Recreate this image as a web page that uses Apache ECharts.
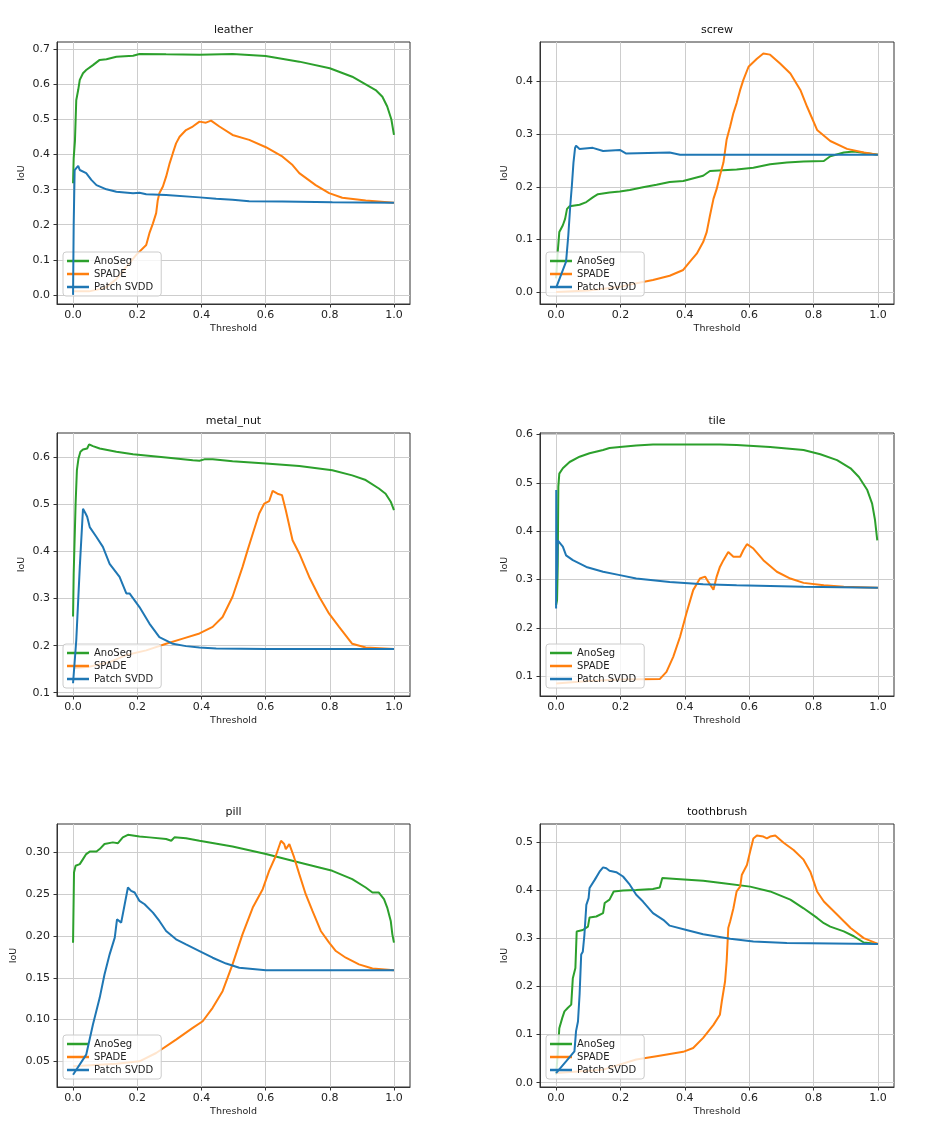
<!DOCTYPE html>
<html>
<head>
<meta charset="utf-8">
<script src="https://cdn.jsdelivr.net/npm/echarts@6/dist/echarts.min.js"></script>
<style>html,body{margin:0;padding:0;background:#fff}#c{width:939px;height:1125px}</style>
</head>
<body>
<div id="c"></div>
<script>
// ---------- data ----------
const panels = ['leather', 'screw', 'metal_nut', 'tile', 'pill', 'toothbrush'];
const methods = ['AnoSeg', 'SPADE', 'Patch SVDD'];
const xTicks = [0, 0.2, 0.4, 0.6, 0.8, 1.0];
const yTicksLeather = [0, 0.1, 0.2, 0.3, 0.4, 0.5, 0.6, 0.7];
const yTicksScrew = [0, 0.1, 0.2, 0.3, 0.4];
const yTicksMetalNut = [0.1, 0.2, 0.3, 0.4, 0.5, 0.6];
const yTicksTile = [0.1, 0.2, 0.3, 0.4, 0.5, 0.6];
const yTicksPill = [0.05, 0.10, 0.15, 0.20, 0.25, 0.30];
const yTicksToothbrush = [0, 0.1, 0.2, 0.3, 0.4, 0.5];

const leatherAnoSeg = [[0,0.318],[0.002,0.39],[0.006,0.44],[0.01,0.555],[0.016,0.584],[0.021,0.613],[0.031,0.632],[0.041,0.641],[0.062,0.655],[0.083,0.67],[0.104,0.672],[0.135,0.679],[0.187,0.682],[0.207,0.687],[0.29,0.686],[0.394,0.685],[0.4,0.688],[0.497,0.687],[0.5,0.69],[0.6,0.681],[0.705,0.665],[0.8,0.646],[0.87,0.622],[0.943,0.584],[0.964,0.565],[0.979,0.537],[0.992,0.5],[1.0,0.456]];
const leatherSPADE = [[0,0.01],[0.05,0.01],[0.1,0.02],[0.135,0.045],[0.166,0.08],[0.197,0.114],[0.228,0.142],[0.238,0.176],[0.249,0.204],[0.259,0.233],[0.264,0.27],[0.269,0.29],[0.28,0.309],[0.29,0.337],[0.301,0.375],[0.311,0.404],[0.321,0.432],[0.332,0.451],[0.352,0.47],[0.373,0.48],[0.394,0.494],[0.414,0.491],[0.43,0.497],[0.456,0.48],[0.497,0.456],[0.549,0.442],[0.601,0.421],[0.653,0.394],[0.684,0.37],[0.705,0.347],[0.756,0.313],[0.798,0.29],[0.839,0.277],[0.912,0.269],[1.0,0.263]];
const leatherPatchSVDD = [[0,0.0],[0.002,0.2],[0.005,0.356],[0.016,0.368],[0.021,0.356],[0.041,0.347],[0.057,0.328],[0.073,0.313],[0.104,0.301],[0.135,0.294],[0.187,0.29],[0.207,0.291],[0.228,0.287],[0.29,0.285],[0.394,0.278],[0.446,0.274],[0.497,0.271],[0.549,0.267],[0.653,0.266],[0.808,0.264],[1.0,0.263]];

const screwAnoSeg = [[0,0.026],[0.005,0.076],[0.01,0.114],[0.021,0.127],[0.028,0.139],[0.034,0.158],[0.042,0.163],[0.073,0.166],[0.094,0.171],[0.114,0.18],[0.13,0.186],[0.166,0.189],[0.198,0.191],[0.229,0.194],[0.27,0.199],[0.312,0.204],[0.353,0.209],[0.395,0.211],[0.457,0.221],[0.478,0.23],[0.561,0.233],[0.613,0.236],[0.665,0.243],[0.717,0.246],[0.769,0.248],[0.832,0.249],[0.852,0.258],[0.894,0.265],[0.925,0.267],[1.0,0.261]];
const screwSPADE = [[0,0.0],[0.1,0.003],[0.2,0.01],[0.25,0.017],[0.301,0.023],[0.353,0.031],[0.395,0.042],[0.416,0.058],[0.437,0.073],[0.457,0.095],[0.468,0.114],[0.478,0.145],[0.489,0.177],[0.499,0.196],[0.509,0.221],[0.52,0.246],[0.53,0.29],[0.541,0.315],[0.551,0.34],[0.561,0.359],[0.572,0.384],[0.582,0.403],[0.598,0.428],[0.624,0.443],[0.644,0.453],[0.665,0.451],[0.696,0.434],[0.728,0.415],[0.759,0.384],[0.78,0.352],[0.811,0.308],[0.852,0.287],[0.904,0.272],[0.956,0.265],[1.0,0.261]];
const screwPatchSVDD = [[0,0.008],[0.031,0.058],[0.038,0.108],[0.044,0.164],[0.049,0.202],[0.054,0.246],[0.059,0.274],[0.062,0.278],[0.073,0.272],[0.114,0.274],[0.146,0.268],[0.198,0.27],[0.218,0.263],[0.353,0.265],[0.385,0.261],[1.0,0.261]];

const metalNutAnoSeg = [[0,0.262],[0.002,0.353],[0.005,0.357],[0.008,0.502],[0.012,0.573],[0.017,0.598],[0.023,0.612],[0.031,0.617],[0.044,0.619],[0.05,0.628],[0.062,0.624],[0.083,0.619],[0.135,0.612],[0.187,0.607],[0.29,0.6],[0.373,0.594],[0.394,0.593],[0.409,0.596],[0.435,0.596],[0.497,0.592],[0.601,0.587],[0.705,0.582],[0.808,0.573],[0.87,0.562],[0.912,0.552],[0.953,0.534],[0.974,0.523],[0.99,0.506],[1.0,0.488]];
const metalNutSPADE = [[0,0.152],[0.05,0.155],[0.114,0.165],[0.166,0.18],[0.228,0.19],[0.29,0.204],[0.342,0.215],[0.394,0.226],[0.435,0.24],[0.466,0.261],[0.497,0.304],[0.528,0.367],[0.544,0.403],[0.56,0.438],[0.58,0.481],[0.596,0.502],[0.611,0.507],[0.622,0.529],[0.637,0.523],[0.651,0.52],[0.663,0.488],[0.684,0.424],[0.705,0.396],[0.736,0.346],[0.767,0.304],[0.798,0.268],[0.829,0.24],[0.87,0.204],[0.912,0.196],[1.0,0.193]];
const metalNutPatchSVDD = [[0,0.12],[0.01,0.211],[0.021,0.367],[0.031,0.491],[0.039,0.481],[0.044,0.474],[0.052,0.452],[0.073,0.431],[0.093,0.41],[0.114,0.374],[0.145,0.346],[0.166,0.311],[0.176,0.311],[0.207,0.282],[0.238,0.247],[0.269,0.218],[0.311,0.204],[0.352,0.199],[0.394,0.196],[0.446,0.194],[0.601,0.193],[1.0,0.193]];

const tileAnoSeg = [[0,0.247],[0.003,0.257],[0.005,0.326],[0.007,0.492],[0.01,0.519],[0.021,0.53],[0.042,0.543],[0.073,0.554],[0.104,0.561],[0.146,0.568],[0.166,0.572],[0.198,0.574],[0.249,0.577],[0.301,0.579],[0.405,0.579],[0.509,0.579],[0.561,0.578],[0.665,0.574],[0.769,0.568],[0.821,0.559],[0.873,0.547],[0.915,0.53],[0.941,0.512],[0.967,0.485],[0.982,0.457],[0.991,0.423],[0.998,0.381]];
const tileSPADE = [[0,0.085],[0.1,0.09],[0.2,0.093],[0.322,0.094],[0.343,0.109],[0.364,0.14],[0.385,0.181],[0.405,0.23],[0.426,0.278],[0.447,0.302],[0.463,0.306],[0.473,0.295],[0.489,0.279],[0.499,0.306],[0.509,0.326],[0.52,0.34],[0.535,0.357],[0.551,0.347],[0.572,0.347],[0.582,0.361],[0.593,0.373],[0.613,0.364],[0.644,0.34],[0.686,0.316],[0.728,0.302],[0.769,0.293],[0.832,0.288],[0.894,0.285],[1.0,0.283]];
const tilePatchSVDD = [[0,0.24],[0.0005,0.485],[0.002,0.3],[0.005,0.381],[0.021,0.368],[0.031,0.35],[0.052,0.34],[0.094,0.326],[0.146,0.316],[0.198,0.309],[0.249,0.302],[0.353,0.295],[0.457,0.29],[0.561,0.288],[0.769,0.285],[1.0,0.283]];

const pillAnoSeg = [[0,0.192],[0.003,0.276],[0.008,0.284],[0.021,0.286],[0.031,0.292],[0.041,0.298],[0.052,0.301],[0.073,0.301],[0.083,0.304],[0.098,0.31],[0.124,0.312],[0.14,0.311],[0.155,0.318],[0.171,0.321],[0.207,0.319],[0.238,0.318],[0.29,0.316],[0.306,0.314],[0.316,0.318],[0.352,0.317],[0.394,0.314],[0.497,0.307],[0.601,0.298],[0.705,0.288],[0.808,0.278],[0.87,0.268],[0.912,0.258],[0.933,0.252],[0.953,0.252],[0.969,0.244],[0.979,0.234],[0.99,0.218],[0.995,0.202],[1.0,0.192]];
const pillSPADE = [[0,0.044],[0.135,0.047],[0.207,0.05],[0.259,0.06],[0.321,0.076],[0.373,0.09],[0.404,0.098],[0.435,0.114],[0.466,0.134],[0.497,0.166],[0.528,0.202],[0.56,0.234],[0.591,0.256],[0.611,0.278],[0.632,0.296],[0.648,0.314],[0.658,0.31],[0.663,0.304],[0.674,0.31],[0.689,0.294],[0.705,0.274],[0.725,0.25],[0.746,0.23],[0.772,0.206],[0.798,0.192],[0.819,0.182],[0.85,0.174],[0.891,0.166],[0.933,0.161],[1.0,0.159]];
const pillPatchSVDD = [[0,0.034],[0.041,0.058],[0.062,0.094],[0.083,0.126],[0.098,0.154],[0.114,0.178],[0.13,0.198],[0.137,0.22],[0.15,0.216],[0.161,0.238],[0.171,0.258],[0.181,0.254],[0.192,0.252],[0.207,0.242],[0.223,0.238],[0.249,0.228],[0.269,0.218],[0.29,0.206],[0.321,0.196],[0.352,0.19],[0.394,0.182],[0.435,0.174],[0.477,0.167],[0.518,0.162],[0.601,0.159],[1.0,0.159]];

const toothbrushAnoSeg = [[0,0.017],[0.005,0.058],[0.01,0.113],[0.019,0.134],[0.026,0.148],[0.036,0.155],[0.047,0.162],[0.052,0.217],[0.06,0.238],[0.064,0.314],[0.083,0.317],[0.099,0.324],[0.104,0.343],[0.125,0.345],[0.146,0.352],[0.151,0.373],[0.166,0.38],[0.179,0.397],[0.208,0.399],[0.249,0.4],[0.301,0.402],[0.322,0.405],[0.33,0.425],[0.374,0.423],[0.457,0.419],[0.52,0.414],[0.603,0.407],[0.665,0.397],[0.728,0.38],[0.769,0.362],[0.811,0.342],[0.832,0.331],[0.852,0.324],[0.894,0.314],[0.925,0.304],[0.956,0.291],[1.0,0.288]];
const toothbrushSPADE = [[0,0.02],[0.146,0.027],[0.249,0.048],[0.312,0.055],[0.395,0.064],[0.426,0.072],[0.457,0.093],[0.489,0.12],[0.509,0.141],[0.515,0.169],[0.525,0.21],[0.53,0.252],[0.535,0.321],[0.541,0.335],[0.551,0.362],[0.561,0.397],[0.572,0.407],[0.577,0.431],[0.593,0.452],[0.603,0.48],[0.613,0.507],[0.624,0.513],[0.644,0.511],[0.655,0.507],[0.665,0.511],[0.681,0.513],[0.707,0.498],[0.738,0.483],[0.769,0.463],[0.79,0.438],[0.811,0.397],[0.832,0.376],[0.873,0.349],[0.915,0.321],[0.956,0.3],[1.0,0.288]];
const toothbrushPatchSVDD = [[0,0.02],[0.031,0.044],[0.057,0.065],[0.062,0.107],[0.068,0.127],[0.073,0.183],[0.078,0.266],[0.083,0.272],[0.088,0.307],[0.094,0.369],[0.101,0.383],[0.104,0.404],[0.12,0.421],[0.135,0.438],[0.146,0.447],[0.156,0.445],[0.166,0.44],[0.187,0.437],[0.208,0.428],[0.229,0.411],[0.249,0.39],[0.27,0.376],[0.301,0.352],[0.333,0.338],[0.353,0.326],[0.405,0.317],[0.457,0.308],[0.541,0.299],[0.613,0.293],[0.717,0.29],[1.0,0.288]];

// ---------- chart assembly ----------
const seriesByPanel = [
  [leatherAnoSeg, leatherSPADE, leatherPatchSVDD],
  [screwAnoSeg, screwSPADE, screwPatchSVDD],
  [metalNutAnoSeg, metalNutSPADE, metalNutPatchSVDD],
  [tileAnoSeg, tileSPADE, tilePatchSVDD],
  [pillAnoSeg, pillSPADE, pillPatchSVDD],
  [toothbrushAnoSeg, toothbrushSPADE, toothbrushPatchSVDD]
];
const yTicksByPanel = [yTicksLeather, yTicksScrew, yTicksMetalNut, yTicksTile, yTicksPill, yTicksToothbrush];
const yExtent = [[-0.026, 0.721], [-0.0226, 0.475], [0.093, 0.652], [0.059, 0.603], [0.0193, 0.334], [-0.009, 0.537]];
const yDecimals = [1, 1, 1, 1, 2, 1];
const methodColors = ['#2ca02c', '#ff7f0e', '#1f77b4'];

const FONT = 'DejaVu Sans';
const cols = [{ left: 57, width: 353 }, { left: 540, width: 354 }];
const rows = [{ top: 42, height: 262 }, { top: 433, height: 263 }, { top: 824, height: 263 }];

const grid = [], xAxis = [], yAxis = [], series = [], title = [], legend = [];
panels.forEach((name, i) => {
  const c = cols[i % 2], r = rows[Math.floor(i / 2)];
  grid.push({
    left: c.left, top: r.top, width: c.width, height: r.height,
    show: true, borderColor: '#333', borderWidth: 1, backgroundColor: '#fff', containLabel: false
  });
  title.push({
    text: name, left: c.left + c.width / 2, top: r.top - 17, padding: 0,
    textAlign: 'center',
    textStyle: { fontFamily: FONT, fontSize: 11, fontWeight: 'normal', color: '#111' }
  });
  xAxis.push({
    gridIndex: i, type: 'value', min: -0.05, max: 1.05,
    name: 'Threshold', nameLocation: 'middle', nameGap: 20,
    nameTextStyle: { fontFamily: FONT, fontSize: 9.5, color: '#222' },
    axisLine: { show: true, onZero: false, lineStyle: { color: '#333', width: 1 } },
    axisTick: { show: true, length: 3.5, lineStyle: { color: '#333' }, customValues: xTicks },
    axisLabel: { customValues: xTicks, margin: 6, fontFamily: FONT, fontSize: 11, color: '#222',
      formatter: v => Number(v).toFixed(1) },
    splitLine: { show: true, lineStyle: { color: '#cdcdcd', width: 1 } }
  });
  const yt = yTicksByPanel[i];
  const dec = yDecimals[i];
  yAxis.push({
    gridIndex: i, type: 'value', min: yExtent[i][0], max: yExtent[i][1],
    name: 'IoU', nameLocation: 'middle', nameGap: dec === 2 ? 38 : 30, nameRotate: 90,
    nameTextStyle: { fontFamily: FONT, fontSize: 9.5, color: '#222' },
    axisLine: { show: true, onZero: false, lineStyle: { color: '#333', width: 1 } },
    axisTick: { show: true, length: 3.5, lineStyle: { color: '#333' }, customValues: yt },
    axisLabel: { customValues: yt, margin: 7, fontFamily: FONT, fontSize: 11, color: '#222',
      formatter: v => Number(v).toFixed(dec) },
    splitLine: { show: true, lineStyle: { color: '#cdcdcd', width: 1 } }
  });
  methods.forEach((m, k) => {
    series.push({
      name: m, type: 'line', xAxisIndex: i, yAxisIndex: i,
      data: seriesByPanel[i][k], showSymbol: false, symbol: 'none',
      lineStyle: { width: 2, color: methodColors[k] }, itemStyle: { color: methodColors[k] },
      z: 2 + k, animation: false
    });
  });
  legend.push({
    data: methods, orient: 'vertical', left: c.left + 6, top: r.top + r.height - 52,
    icon: 'rect', itemWidth: 22, itemHeight: 2.5, itemGap: 3,
    padding: [4, 8, 4, 4],
    backgroundColor: 'rgba(255,255,255,0.8)', borderColor: '#cccccc', borderWidth: 1, borderRadius: 3,
    textStyle: { fontFamily: FONT, fontSize: 10, color: '#222', padding: [0, 0, 0, 0] },
    selectedMode: false
  });
});

const chart = echarts.init(document.getElementById('c'), null, { renderer: 'canvas' });
chart.setOption({
  backgroundColor: '#fff', animation: false,
  title, legend, grid, xAxis, yAxis, series
});
</script>
</body>
</html>
